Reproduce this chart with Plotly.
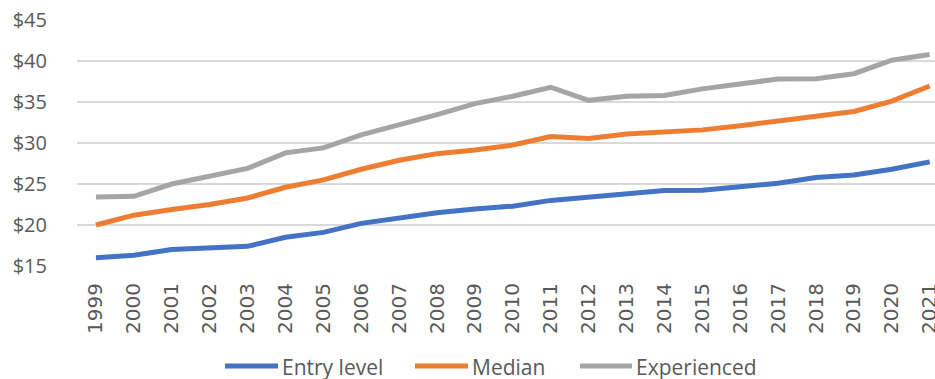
import plotly.graph_objects as go

# Hourly wage by experience level, 1999-2021
years = [str(y) for y in range(1999, 2022)]

entry_level = [16.0, 16.3, 17.0, 17.2, 17.4, 18.5, 19.1, 20.2, 20.9, 21.5, 21.95, 22.3,
               23.0, 23.45, 23.8, 24.2, 24.25, 24.7, 25.1, 25.8, 26.1, 26.8, 27.7]
median = [20.0, 21.2, 21.9, 22.5, 23.3, 24.6, 25.5, 26.8, 27.9, 28.7, 29.15, 29.75,
          30.8, 30.55, 31.1, 31.3, 31.6, 32.1, 32.75, 33.25, 33.85, 35.1, 36.95]
experienced = [23.4, 23.5, 25.0, 26.0, 26.9, 28.8, 29.4, 31.0, 32.2, 33.45, 34.8, 35.7,
               36.8, 35.2, 35.7, 35.8, 36.6, 37.2, 37.8, 37.85, 38.45, 40.1, 40.8]

y_ticks = [15, 20, 25, 30, 35, 40, 45]
y_tick_labels = ["$" + str(v) for v in y_ticks]

series_names = ["Entry level", "Median", "Experienced"]
series_values = [entry_level, median, experienced]
series_colors = ["#4472C4", "#ED7D31", "#A5A5A5"]

W, H = 935, 379
M_L, M_R, M_T, M_B = 77, 0, 20, 113
TEXT = "#595959"

fig = go.Figure()
for name, values, color in zip(series_names, series_values, series_colors):
    fig.add_trace(go.Scatter(
        x=years, y=values, name=name, mode="lines", showlegend=False,
        line=dict(color=color, width=5),
    ))


def px_to_paper_x(px):
    return (px - M_L) / (W - M_L - M_R)


def px_to_paper_y(py):
    return (H - M_B - py) / (H - M_T - M_B)


# Legend row below the year labels: key line, then the series name
legend_keys = [(225, 278), (415, 468), (580, 632)]
legend_row_y = 366
shapes = []
annotations = []
for (x0, x1), name, color in zip(legend_keys, series_names, series_colors):
    shapes.append(dict(
        type="line", xref="paper", yref="paper",
        x0=px_to_paper_x(x0), x1=px_to_paper_x(x1),
        y0=px_to_paper_y(legend_row_y), y1=px_to_paper_y(legend_row_y),
        line=dict(color=color, width=5),
    ))
    annotations.append(dict(
        text=name, xref="paper", yref="paper", showarrow=False,
        x=px_to_paper_x(x1 + 2), xanchor="left",
        y=px_to_paper_y(legend_row_y + 1), yanchor="middle",
        font=dict(family="Open Sans", size=21, color=TEXT),
    ))

fig.update_layout(
    width=W, height=H,
    margin=dict(l=M_L, r=M_R, t=M_T, b=M_B, autoexpand=False),
    paper_bgcolor="white", plot_bgcolor="white",
    font=dict(family="Open Sans", size=20, color=TEXT),
    showlegend=False,
    shapes=shapes,
    annotations=annotations,
)

fig.update_xaxes(
    type="category", range=[-0.5, 22.14], automargin=False,
    tickangle=-90, showgrid=False, zeroline=False, showline=False,
    ticks="", ticklabelstandoff=12,
    tickfont=dict(family="DejaVu Sans", size=20, color=TEXT),
)

fig.update_yaxes(
    range=[15, 45], tickvals=y_ticks, ticktext=y_tick_labels, automargin=False,
    showgrid=True, gridcolor="#D9D9D9", gridwidth=1.5,
    zeroline=False, showline=False, ticks="", ticklabelstandoff=29,
    tickfont=dict(family="Open Sans", size=20, color=TEXT),
)

fig.write_html("out.html")
